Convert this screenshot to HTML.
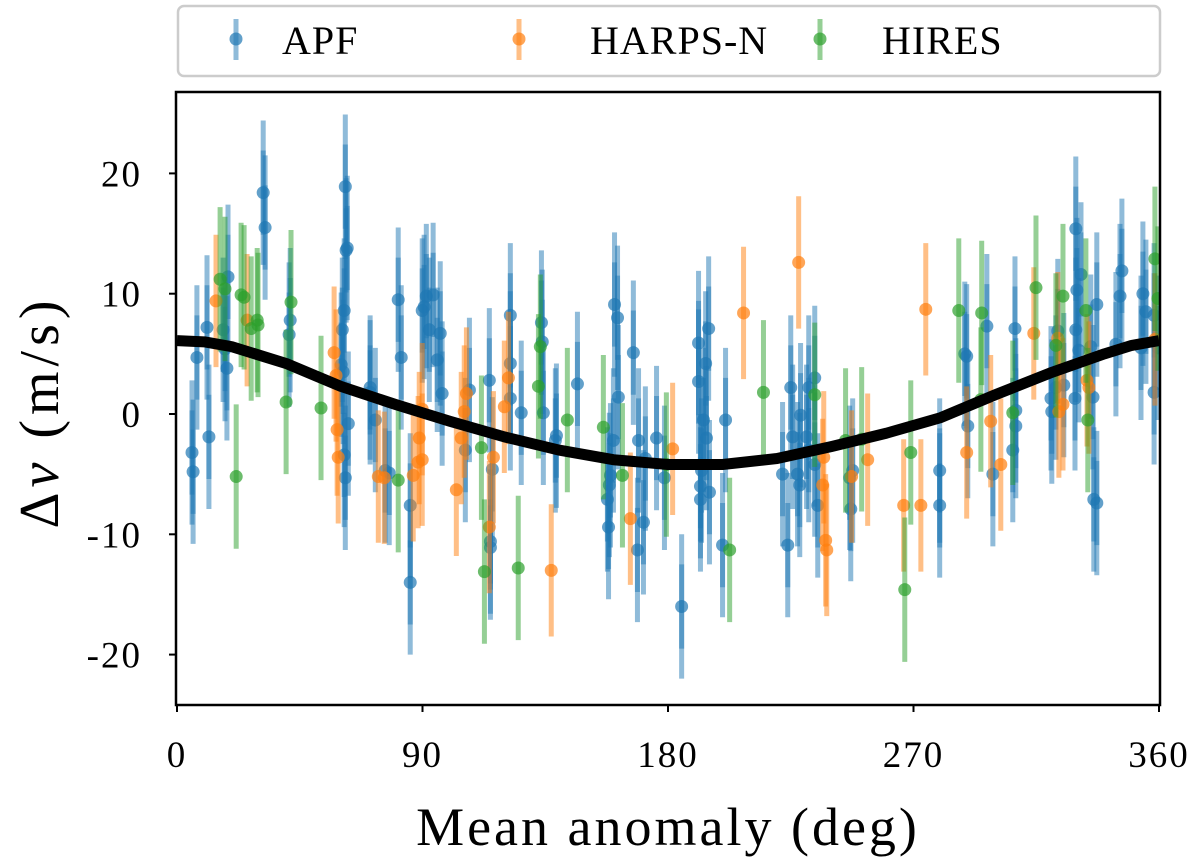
<!DOCTYPE html>
<html><head><meta charset="utf-8"><style>
body{margin:0;background:#fff;width:1200px;height:860px;overflow:hidden}
svg text{font-family:"Liberation Serif",serif;fill:#000}
</style></head><body>
<svg id="chart" width="1200" height="860" viewBox="0 0 1200 860" xmlns="http://www.w3.org/2000/svg"></svg>
<script>
const xTicks=[0,90,180,270,360];
const yTicks=[20,10,0,-10,-20];
const yTickLabels=["20","10","0","-10","-20"];
const apfM=[5.5,5.9,7.3,11.7,11,16.9,17.6,18.3,18.7,31.6,32.3,41.1,41.5,60.2,60.9,60.6,61.3,62,62.4,61.7,62.8,61.3,61.7,70.8,70.8,72.7,76.3,77.8,81.1,82.2,85.5,85.5,89.9,90.6,91.4,92.5,93.9,96.5,95.4,97.2,105.7,107.2,114.5,114.9,114.9,115.6,122.2,122.2,122.2,126.2,133.6,133.9,134.3,138.7,139.1,146.8,157.8,158.2,158.5,158.9,160,160.4,161.5,161.8,167.3,169.2,168.8,171,171.7,175.8,178.7,185,191.2,191.2,191.9,191.9,192.3,193,193.8,194.1,194.9,195.2,200,201.1,222,223.9,225,225.7,227.5,228.3,228.6,231.6,230.8,231.6,233.8,233.8,234.9,246.6,247,247.7,279.6,279.6,288.8,289.5,289.9,296.9,299.1,306.4,307.2,307.5,307.5,320.4,320.7,322.2,322.9,325.1,329.2,329.5,329.9,329.5,330.6,331.4,335,335.8,336.1,337.2,337.2,344.2,345.7,346.4,353.4,354.1,355.2,358.2,359.6,358.2];
const apfV=[-3.2,-4.8,4.7,-1.9,7.2,7.0,5.4,3.8,11.4,18.4,15.5,6.6,7.8,4.1,3.5,7.0,8.6,13.6,13.8,18.9,-0.8,-3.4,-5.3,2.2,1.8,-0.5,-4.7,-4.9,9.5,4.7,-7.6,-14.0,8.6,8.9,9.8,7.0,9.9,6.7,4.5,1.7,-3.0,2.0,2.8,-10.6,-11.1,-4.6,1.3,4.2,8.2,0.1,7.6,6.0,0.1,-2.2,-1.8,2.5,-7.1,-9.4,-5.9,-5.1,-2.2,9.1,8.0,1.4,5.1,-2.2,-11.3,-9.0,-3.7,-2.0,-5.3,-16.0,2.7,5.9,-6.0,-7.1,-4.7,-0.5,4.2,-2.0,7.1,-6.5,-10.9,-0.5,-5.0,-10.9,2.2,-1.9,-5.0,-5.9,-0.1,2.2,-1.9,-3.0,3.0,-4.2,-7.6,-5.3,-7.9,-4.7,-7.6,-4.7,5.0,4.8,-1.0,7.3,-5.0,-3.0,7.1,0.3,-1.0,1.3,0.2,2.2,6.9,2.4,1.3,15.4,10.3,7.0,5.3,11.6,5.6,1.4,-7.1,-7.4,9.1,5.8,9.8,11.9,5.5,10.0,8.5,8.2,5.5,1.8];
const harpsM=[14.3,25.7,57.6,58.3,58.7,59.1,73.8,76,86.6,88.4,88.8,89.9,89.9,102.4,104.2,105.3,106.1,114.5,116,120,121.5,137.2,166.2,181.7,207.7,227.9,236.7,237.8,238.2,237.1,247.3,253.2,274.5,266.4,272.7,289.5,298.3,302,314.1,322.9,323.3,324.8,333.6,334.3,358.5];
const harpsV=[9.4,7.8,5.1,3.2,-1.3,-3.6,-5.2,-5.3,-5.1,-4.0,-2.0,-3.8,0.4,-6.3,-2.0,0.2,1.7,-9.4,-3.6,0.6,3.0,-13.0,-8.7,-2.9,8.4,12.6,-5.9,-10.5,-11.3,-3.6,-5.2,-3.8,8.7,-7.6,-7.6,-3.2,-0.6,-4.2,6.7,6.3,0.2,0.8,2.8,2.2,6.2];
const hiresM=[15.8,17.6,21.7,23.5,24.6,27.2,29.4,29.7,40,41.8,52.8,81.1,111.6,112.7,125.1,132.5,133.2,143.1,156.3,163.3,179.4,202.6,215,233.8,245.1,251,266.8,269,286.6,295,294.7,306.4,314.9,322.2,324.8,333.2,333.9,358.5,359.6];
const hiresV=[11.2,10.4,-5.2,9.9,9.7,7.1,7.8,7.4,1.0,9.3,0.5,-5.5,-2.8,-13.1,-12.8,2.3,5.6,-0.5,-1.1,-5.1,-4.2,-11.3,1.8,1.6,-2.2,-2.1,-14.6,-3.2,8.6,8.4,1.2,0.1,10.5,5.7,9.8,8.6,-0.5,12.9,9.6];
const curveM=[0,10,20,40,60,80,100,120,140,160,180,200,220,240,260,280,300,320,340,350,360];
const curveV=[6.1,6.0,5.6,4.2,2.3,0.8,-0.6,-1.9,-3.0,-3.8,-4.2,-4.2,-3.7,-2.7,-1.6,-0.3,1.6,3.4,5.0,5.7,6.1];
const apfErr=6, apfInner=3.5, harpsErr=5.5, hiresErr=6;

const svg=document.getElementById('chart');
const NS='http://www.w3.org/2000/svg';
const X0=177,X1=1159,Y0=414,YS=12.03;
const xs=m=>X0+(m/360)*(X1-X0);
const ys=v=>Y0-v*YS;
function mk(t,a,p){const e=document.createElementNS(NS,t);for(const k in a)e.setAttribute(k,a[k]);(p||svg).appendChild(e);return e;}

const lg=mk('g',{});


mk('rect',{x:178,y:6,width:982,height:70,rx:6,fill:'#fff',stroke:'#ccc','stroke-width':2.5},lg);
const legendItems=[['APF','#1f77b4',236,282],['HARPS-N','#ff7f0e',519,590],['HIRES','#2ca02c',820,882]];
legendItems.forEach(([n,c,mx,tx])=>{
  const g=mk('g',{},lg);
  
  
  mk('line',{x1:mx,x2:mx,y1:19,y2:60,stroke:c,'stroke-width':5,'stroke-opacity':0.5},g);
  mk('circle',{cx:mx,cy:39,r:6.5,fill:c,'fill-opacity':0.7},g);
  const t=mk('text',{x:tx,y:54,'font-size':40,'letter-spacing':1},g);t.textContent=n;
});

const defs=mk('defs',{});
const cp=mk('clipPath',{id:'pc'},defs);
mk('rect',{x:176,y:92,width:984,height:613},cp);
const plot=mk('g',{'clip-path':'url(#pc)'});



function series(name,M,V,c,err,inner){
  const g=mk('g',{},plot);
  
  
  M.forEach((m,i)=>{
    const x=xs(m),v=V[i];
    const b=mk('line',{x1:x,x2:x,y1:ys(v+err),y2:ys(v-err),stroke:c,'stroke-width':5,'stroke-opacity':0.5},g);
    
    
    if(inner){mk('line',{x1:x,x2:x,y1:ys(v+inner),y2:ys(v-inner),stroke:c,'stroke-width':5,'stroke-opacity':0.5},g);}
    const p=mk('circle',{cx:x,cy:ys(v),r:6.5,fill:c,'fill-opacity':0.7},g);
    
    
  });
}
series('apf',apfM,apfV,'#1f77b4',apfErr,apfInner);
series('harps-n',harpsM,harpsV,'#ff7f0e',harpsErr,0);
series('hires',hiresM,hiresV,'#2ca02c',hiresErr,0);

const cl=mk('polyline',{points:curveM.map((m,i)=>xs(m)+','+ys(curveV[i])).join(' '),fill:'none',stroke:'#000','stroke-width':11,'stroke-linejoin':'round'},plot);



const fr=mk('rect',{x:176,y:92,width:984,height:613,fill:'none',stroke:'#000','stroke-width':2.5});



xTicks.forEach(t=>{
  const x=xs(t);
  mk('line',{x1:x,x2:x,y1:705,y2:712,stroke:'#000','stroke-width':2});
  const l=mk('text',{x:x,y:767,'font-size':37,'text-anchor':'middle','letter-spacing':2});
  
  
  l.textContent=String(t);
});
yTicks.forEach((t,i)=>{
  const y=ys(t);
  mk('line',{x1:169,x2:176,y1:y,y2:y,stroke:'#000','stroke-width':2});
  const l=mk('text',{x:142,y:y+13,'font-size':37,'text-anchor':'end','letter-spacing':2});
  
  
  l.textContent=yTickLabels[i];
});
const xl=mk('text',{x:668,y:845,'font-size':54,'text-anchor':'middle','letter-spacing':3});


xl.textContent='Mean anomaly (deg)';
const yl=mk('text',{x:0,y:0,'font-size':56,'text-anchor':'middle','letter-spacing':5,transform:'translate(58,412) rotate(-90)'});


yl.innerHTML='Δ<tspan font-style="italic">v</tspan> (m/s)';
</script>
</body></html>
